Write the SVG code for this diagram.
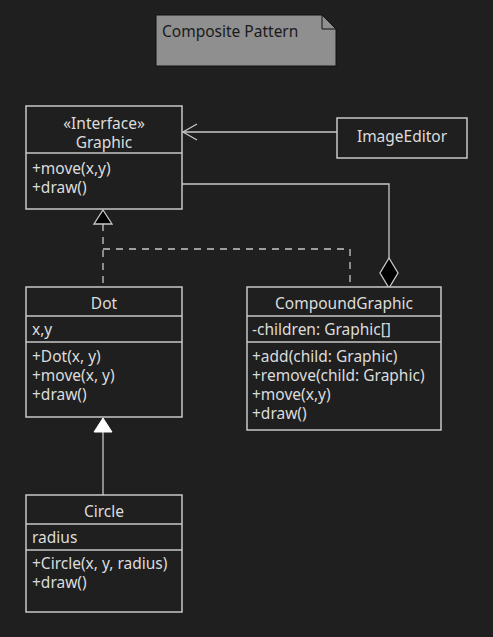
<svg xmlns="http://www.w3.org/2000/svg" width="493" height="637" viewBox="0 0 493 637">
<style>
  .bg{fill:#1f1f1f}
  .box{fill:#1f1f1f;stroke:#c8c8c8;stroke-width:1.5}
  .sep{stroke:#c8c8c8;stroke-width:1.5}
  .t{font-family:"Noto Sans","Open Sans",sans-serif;font-size:15.5px;fill:#dcdcdc}
  .c{text-anchor:middle}
  .line{fill:none;stroke:#c8c8c8;stroke-width:1.3}
  .dash{fill:none;stroke:#c8c8c8;stroke-width:1.3;stroke-dasharray:7,6}
</style>
<rect class="bg" x="0" y="0" width="493" height="637"/>
<g id="note">
  <path d="M156,15 L322,15 L336,29 L336,66 L156,66 Z" fill="#8f8f8f" stroke="#111" stroke-width="1"/>
  <path d="M322,15 L322,29 L336,29" fill="none" stroke="#111" stroke-width="1"/>
  <text class="t" x="162" y="37" style="fill:#1a1a1a">Composite Pattern</text>
</g>
<g id="connectors">
  <line class="line" x1="337" y1="132" x2="183" y2="132"/>
  <polyline class="line" points="197,124 183,132 197,140"/>
  <polyline class="line" points="182,184 389,184 389,258"/>
  <polygon points="389,258 398,273 389,288 380,273" fill="#000" stroke="#c8c8c8" stroke-width="1.3"/>
  <line class="dash" x1="103" y1="224" x2="103" y2="287"/>
  <polyline class="dash" points="103,249 350,249 350,287"/>
  <polygon points="103,210 112,224 94,224" fill="#000" stroke="#c8c8c8" stroke-width="1.3"/>
  <line class="line" x1="103" y1="432" x2="103" y2="495"/>
  <polygon points="103,418 112,432 94,432" fill="#fff" stroke="#fff" stroke-width="1"/>
</g>
<g id="Graphic">
  <rect class="box" x="26" y="106" width="156" height="103"/>
  <line class="sep" x1="26" y1="153" x2="182" y2="153"/>
  <text class="t c" x="104" y="129">«Interface»</text>
  <text class="t c" x="104" y="148">Graphic</text>
  <text class="t" x="32" y="174">+move(x,y)</text>
  <text class="t" x="32" y="193">+draw()</text>
</g>
<g id="ImageEditor">
  <rect class="box" x="337" y="118" width="130" height="40"/>
  <text class="t c" x="402" y="142">ImageEditor</text>
</g>
<g id="Dot">
  <rect class="box" x="26" y="287" width="156" height="130"/>
  <line class="sep" x1="26" y1="316" x2="182" y2="316"/>
  <line class="sep" x1="26" y1="342" x2="182" y2="342"/>
  <text class="t c" x="104" y="309">Dot</text>
  <text class="t" x="32" y="335">x,y</text>
  <text class="t" x="32" y="362">+Dot(x, y)</text>
  <text class="t" x="32" y="381">+move(x, y)</text>
  <text class="t" x="32" y="400">+draw()</text>
</g>
<g id="CompoundGraphic">
  <rect class="box" x="247" y="287" width="194" height="143"/>
  <line class="sep" x1="247" y1="316" x2="441" y2="316"/>
  <line class="sep" x1="247" y1="342" x2="441" y2="342"/>
  <text class="t c" x="344" y="309">CompoundGraphic</text>
  <text class="t" x="252" y="335">-children: Graphic[]</text>
  <text class="t" x="252" y="362">+add(child: Graphic)</text>
  <text class="t" x="252" y="381">+remove(child: Graphic)</text>
  <text class="t" x="252" y="400">+move(x,y)</text>
  <text class="t" x="252" y="419">+draw()</text>
</g>
<g id="Circle">
  <rect class="box" x="26" y="495" width="156" height="117"/>
  <line class="sep" x1="26" y1="524" x2="182" y2="524"/>
  <line class="sep" x1="26" y1="550" x2="182" y2="550"/>
  <text class="t c" x="104" y="517">Circle</text>
  <text class="t" x="32" y="543">radius</text>
  <text class="t" x="32" y="569">+Circle(x, y, radius)</text>
  <text class="t" x="32" y="588">+draw()</text>
</g>
</svg>
